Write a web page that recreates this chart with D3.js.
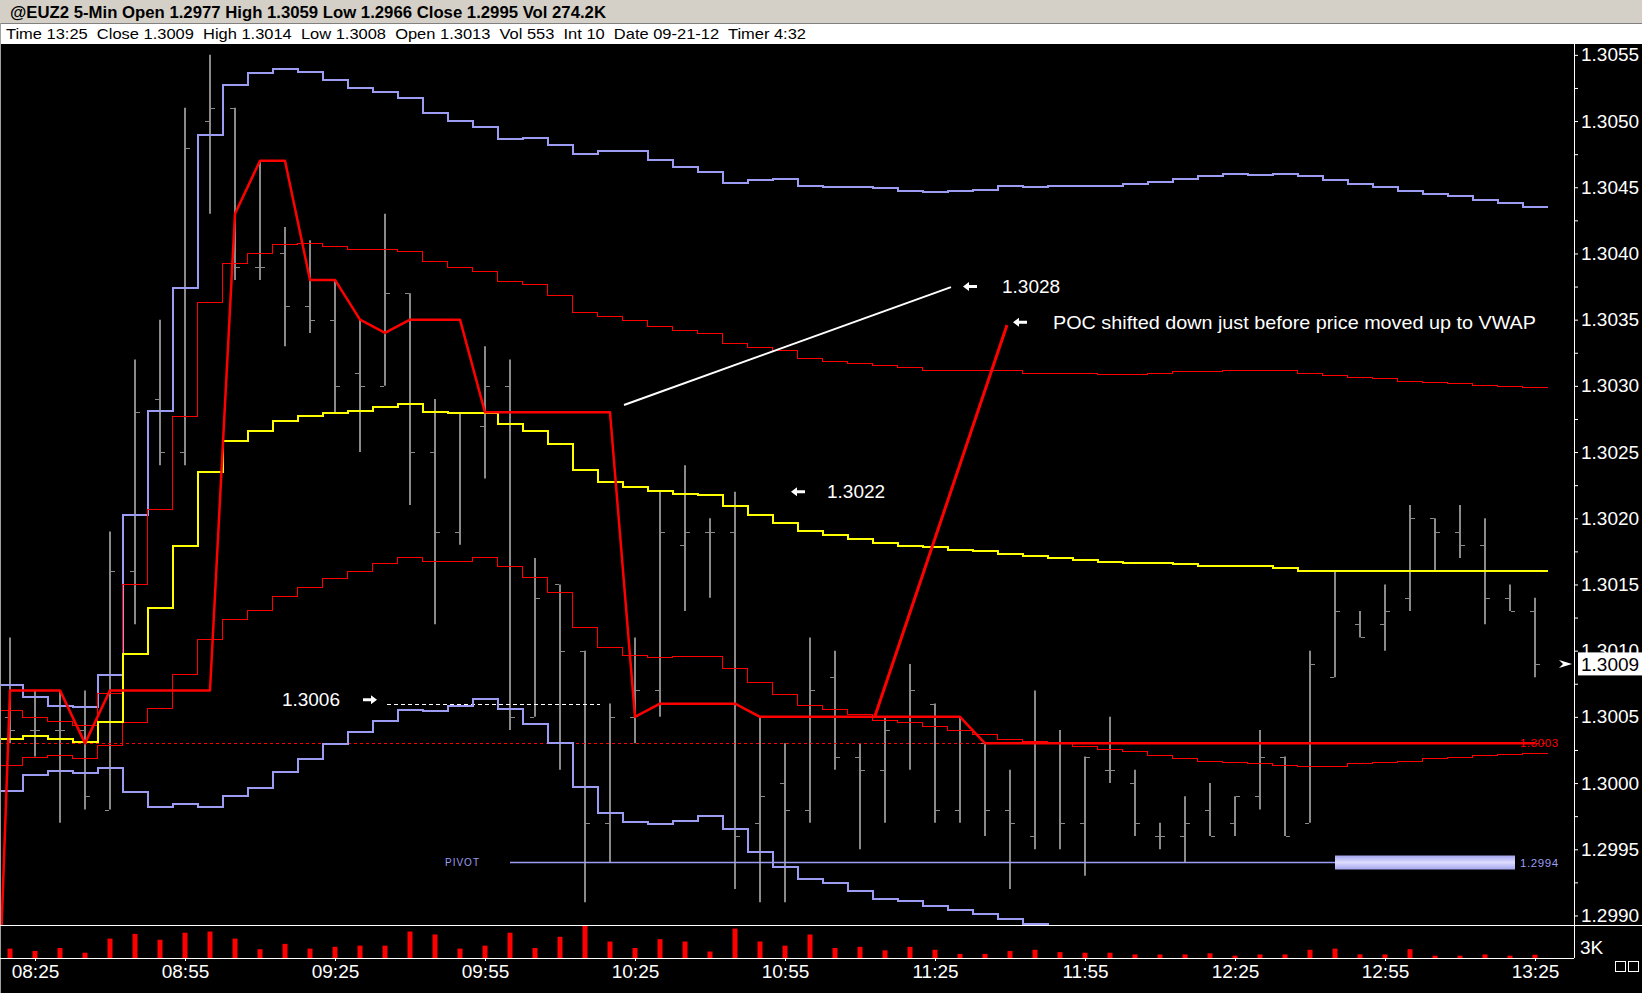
<!DOCTYPE html>
<html>
<head>
<meta charset="utf-8">
<script src="https://cdn.jsdelivr.net/npm/d3@7"></script>
<style>
  html, body { margin: 0; padding: 0; background: #000; overflow: hidden; }
  svg { display: block; font-family: "Liberation Sans", Arial, sans-serif; }
</style>
</head>
<body>
<svg id="chart" width="1642" height="993"></svg>
<script>
/** ---------- data ---------- */
const headerTitle = "@EUZ2 5-Min Open 1.2977 High 1.3059 Low 1.2966 Close 1.2995 Vol 274.2K";
const headerInfo = "Time 13:25  Close 1.3009  High 1.3014  Low 1.3008  Open 1.3013  Vol 553  Int 10  Date 09-21-12  Timer 4:32";

const times = ["08:20",
  "08:25","08:30","08:35","08:40","08:45","08:50",
  "08:55","09:00","09:05","09:10","09:15","09:20",
  "09:25","09:30","09:35","09:40","09:45","09:50",
  "09:55","10:00","10:05","10:10","10:15","10:20",
  "10:25","10:30","10:35","10:40","10:45","10:50",
  "10:55","11:00","11:05","11:10","11:15","11:20",
  "11:25","11:30","11:35","11:40","11:45","11:50",
  "11:55","12:00","12:05","12:10","12:15","12:20",
  "12:25","12:30","12:35","12:40","12:45","12:50",
  "12:55","13:00","13:05","13:10","13:15","13:20",
  "13:25"];

const open = [1.3005,
  1.3004,1.3004,1.3004,1.2998,1.3016,1.3029,
  1.3025,1.3050,1.3051,1.3039,1.3040,1.3036,
  1.3035,1.3031,1.3030,1.3037,1.3025,1.3019,
  1.3027,1.3030,1.3005,1.3015,1.3010,1.2997,
  1.3005,1.3007,1.3018,1.3019,1.3019,1.2997,
  1.3000,1.2998,1.3008,1.3002,1.3001,1.3005,
  1.3006,1.2998,1.3003,1.2998,1.2996,1.3003,
  1.2997,1.3001,1.3000,1.2996,1.2996,1.2998,
  1.2997,1.2999,1.3002,1.2997,1.3008,1.3012,
  1.3012,1.3014,1.3020,1.3019,1.3018,1.3014,
  1.3013];

const high = [1.3011,
  1.3007,1.3007,1.3007,1.3019,1.3032,1.3035,
  1.3051,1.3055,1.3051,1.3047,1.3042,1.3041,
  1.3038,1.3035,1.3043,1.3037,1.3029,1.3028,
  1.3033,1.3032,1.3017,1.3015,1.3010,1.3006,
  1.3011,1.3022,1.3024,1.3020,1.3022,1.3005,
  1.3003,1.3011,1.3010,1.3003,1.3005,1.3009,
  1.3006,1.3005,1.3003,1.3001,1.3007,1.3004,
  1.3002,1.3005,1.3001,1.2997,1.2999,1.3000,
  1.2999,1.3004,1.3002,1.3010,1.3016,1.3013,
  1.3015,1.3021,1.3020,1.3021,1.3020,1.3015,
  1.3014];

const low = [1.3003,
  1.3002,1.2997,1.2998,1.2998,1.3012,1.3024,
  1.3024,1.3043,1.3038,1.3038,1.3033,1.3034,
  1.3028,1.3025,1.3030,1.3021,1.3012,1.3018,
  1.3023,1.3004,1.3005,1.3001,1.2991,1.2994,
  1.3003,1.3005,1.3013,1.3014,1.2992,1.2991,
  1.2991,1.2997,1.3001,1.2995,1.2997,1.3001,
  1.2997,1.2997,1.2996,1.2992,1.2995,1.2995,
  1.2993,1.3000,1.2996,1.2995,1.2994,1.2996,
  1.2996,1.2998,1.2996,1.2997,1.3008,1.3011,
  1.3010,1.3013,1.3016,1.3017,1.3012,1.3013,
  1.3008];

const close = [1.3004,
  1.3004,1.3004,1.2999,1.3016,1.3028,1.3025,
  1.3048,1.3051,1.3039,1.3039,1.3036,1.3035,
  1.3030,1.3030,1.3037,1.3025,1.3019,1.3028,
  1.3030,1.3005,1.3014,1.3010,1.2997,1.3005,
  1.3007,1.3019,1.3019,1.3019,1.2996,1.2999,
  1.2998,1.3007,1.3002,1.3001,1.3004,1.3007,
  1.2998,1.3004,1.2998,1.2997,1.3003,1.2997,
  1.3002,1.3001,1.2997,1.2996,1.2997,1.2996,
  1.2999,1.3002,1.2996,1.3009,1.3013,1.3011,
  1.3013,1.3020,1.3019,1.3018,1.3014,1.3013,
  1.3009];

const volume = [1600,
  1200,1700,900,3300,4100,3100,
  4300,4500,3300,1500,2400,1600,
  1900,2100,2100,4500,4000,1600,
  2100,4300,1700,3600,5600,2800,
  1700,3200,2800,1100,5000,2800,
  2100,4000,1700,1900,1300,1900,
  1400,700,700,1200,1400,1000,
  900,900,600,600,600,800,
  400,600,600,1400,1600,600,
  600,1500,400,400,600,400,
  553];

// VWAP and its two deviation bands on each side
const vwap = [1.30034,
  1.30036,1.30034,1.30032,1.30047,1.30098,1.30133,
  1.30180,1.30236,1.30259,1.30267,1.30274,1.30278,
  1.30280,1.30282,1.30285,1.30287,1.30281,1.30280,
  1.30280,1.30272,1.30267,1.30257,1.30237,1.30228,
  1.30224,1.30221,1.30219,1.30218,1.30210,1.30203,
  1.30197,1.30191,1.30188,1.30185,1.30182,1.30180,
  1.30179,1.30177,1.30176,1.30174,1.30172,1.30171,
  1.30169,1.30168,1.30167,1.30167,1.30166,1.30165,
  1.30165,1.30165,1.30163,1.30161,1.30161,1.30161,
  1.30161,1.30161,1.30161,1.30161,1.30161,1.30161,
  1.30161];

const upper1 = [1.30055,
  1.30050,1.30047,1.30044,1.30068,1.30150,1.30207,
  1.30277,1.30363,1.30393,1.30400,1.30407,1.30408,
  1.30406,1.30403,1.30403,1.30402,1.30394,1.30390,
  1.30387,1.30379,1.30377,1.30369,1.30356,1.30353,
  1.30350,1.30345,1.30342,1.30340,1.30332,1.30329,
  1.30327,1.30321,1.30319,1.30317,1.30316,1.30314,
  1.30312,1.30312,1.30312,1.30312,1.30310,1.30310,
  1.30310,1.30309,1.30309,1.30310,1.30311,1.30311,
  1.30312,1.30312,1.30312,1.30310,1.30308,1.30307,
  1.30306,1.30304,1.30303,1.30302,1.30301,1.30300,
  1.30299];

const upper2 = [1.30075,
  1.30066,1.30059,1.30058,1.30082,1.30203,1.30282,
  1.30375,1.30490,1.30528,1.30537,1.30540,1.30538,
  1.30532,1.30526,1.30523,1.30518,1.30507,1.30501,
  1.30496,1.30487,1.30488,1.30483,1.30476,1.30478,
  1.30478,1.30471,1.30466,1.30462,1.30454,1.30456,
  1.30457,1.30452,1.30451,1.30451,1.30450,1.30448,
  1.30447,1.30448,1.30449,1.30452,1.30451,1.30452,
  1.30452,1.30452,1.30453,1.30455,1.30457,1.30459,
  1.30461,1.30460,1.30461,1.30459,1.30456,1.30453,
  1.30451,1.30448,1.30446,1.30444,1.30441,1.30439,
  1.30436];

const lower1 = [1.30014,
  1.30020,1.30021,1.30019,1.30029,1.30046,1.30057,
  1.30082,1.30109,1.30124,1.30131,1.30141,1.30148,
  1.30155,1.30160,1.30166,1.30171,1.30168,1.30168,
  1.30171,1.30164,1.30156,1.30144,1.30118,1.30103,
  1.30097,1.30095,1.30096,1.30096,1.30087,1.30076,
  1.30067,1.30059,1.30056,1.30052,1.30048,1.30046,
  1.30043,1.30040,1.30037,1.30033,1.30032,1.30030,
  1.30028,1.30026,1.30024,1.30021,1.30019,1.30017,
  1.30016,1.30015,1.30014,1.30013,1.30013,1.30015,
  1.30016,1.30017,1.30019,1.30020,1.30021,1.30022,
  1.30023];

const lower2 = [1.29995,
  1.30007,1.30010,1.30008,1.30012,1.29994,1.29983,
  1.29985,1.29983,1.29991,1.29997,1.30009,1.30019,
  1.30030,1.30039,1.30048,1.30056,1.30055,1.30059,
  1.30064,1.30057,1.30045,1.30031,1.29998,1.29978,
  1.29971,1.29970,1.29972,1.29976,1.29966,1.29949,
  1.29937,1.29928,1.29925,1.29919,1.29913,1.29912,
  1.29908,1.29905,1.29902,1.29898,1.29894,1.29888,
  1.29886,1.29884,1.29882,1.29880,1.29879,1.29878,
  1.29877,1.29877,1.29876,1.29877,1.29880,1.29882,
  1.29883,1.29885,1.29886,1.29887,1.29888,1.29889,
  1.29890];

// point of control (thick red line), plus the value of the bar before the screen
const pocPrevTime = "08:15";
const pocPrev = 1.2954;
const poc = [1.3007,
  1.3007,1.3007,1.3003,1.3007,1.3007,1.3007,
  1.3007,1.3007,1.3043,1.3047,1.3047,1.3038,
  1.3038,1.3035,1.3034,1.3035,1.3035,1.3035,
  1.3028,1.3028,1.3028,1.3028,1.3028,1.3028,
  1.3005,1.3006,1.3006,1.3006,1.3006,1.3005,
  1.3005,1.3005,1.3005,1.3005,1.3005,1.3005,
  1.3005,1.3005,1.3003,1.3003,1.3003,1.3003,
  1.3003,1.3003,1.3003,1.3003,1.3003,1.3003,
  1.3003,1.3003,1.3003,1.3003,1.3003,1.3003,
  1.3003,1.3003,1.3003,1.3003,1.3003,1.3003,
  1.3003];

const pocLevel = 1.3003;
const pivot = { price: 1.2994, lineFrom: 600, barFrom: 765, barTo: 801, labelAt: 587 };
const level1306 = { price: 1.3006, from: 575.4, to: 618 };

const priceTicks = d3.range(0, 14).map(i => (12990 + 5 * i) / 10000);
const priceMinor = d3.range(0, 13).map(i => (129925 + 50 * i) / 100000);
const timeTicks = ["08:25","08:55","09:25","09:55","10:25","10:55","11:25","11:55","12:25","12:55","13:25"];

// callouts, in (minutes since midnight, price)
const calloutLines = [
  { t0: 622.8, p0: 1.302855, t1: 688.2, p1: 1.303746, color: "#ffffff", w: 2 },
  { t0: 673.0, p0: 1.300506, t1: 699.4, p1: 1.303459, color: "#ff0000", w: 3 }
];
const calloutArrows = [
  { t: 692.0, p: 1.30375, dir: -1 },
  { t: 702.0, p: 1.30348, dir: -1 },
  { t: 657.6, p: 1.30220, dir: -1 },
  { t: 572.0, p: 1.30063, dir: 1 }
];
const calloutTexts = [
  { t: 698.4, p: 1.30375, text: "1.3028", anchor: "start" },
  { t: 708.6, p: 1.30348, text: "POC shifted down just before price moved up to VWAP", anchor: "start", len: 483 },
  { t: 663.4, p: 1.30220, text: "1.3022", anchor: "start" },
  { t: 566.0, p: 1.30063, text: "1.3006", anchor: "end" }
];

/** ---------- scales ---------- */
const toMin = s => +s.slice(0, 2) * 60 + +s.slice(3);
const W = 1642, axisX = 1574, plotTop = 44, plotBottom = 925, volBottom = 958;

const x = d3.scaleLinear().domain([toMin("08:25"), toMin("13:25")]).range([35, 1535]);
const y = d3.scaleLinear().domain([1.298928, 1.305582]).range([plotBottom, plotTop]);
const yv = d3.scaleLinear().domain([0, 5610]).range([volBottom, plotBottom]);
const half = (x(toMin("08:30")) - x(toMin("08:25"))) / 2;

const bars = times.map((t, i) => ({
  t: toMin(t), o: open[i], h: high[i], l: low[i], c: close[i], v: volume[i]
}));

/** ---------- chrome ---------- */
const svg = d3.select("#chart");
svg.append("rect").attr("width", W).attr("height", 993).attr("fill", "#000");

svg.append("rect").attr("width", W).attr("height", 23).attr("fill", "#d4d0c8");
svg.append("text")
  .attr("x", 10).attr("y", 18)
  .attr("font-size", 16).attr("font-weight", "bold").attr("fill", "#000")
  .attr("textLength", 596).attr("lengthAdjust", "spacingAndGlyphs")
  .text(headerTitle);

svg.append("rect").attr("y", 23).attr("width", W).attr("height", 21).attr("fill", "#fff");
svg.append("line").attr("x1", 0).attr("x2", W).attr("y1", 23.5).attr("y2", 23.5).attr("stroke", "#808080");
svg.append("text")
  .attr("x", 6).attr("y", 39)
  .attr("font-size", 15).attr("fill", "#000")
  .style("white-space", "pre")
  .attr("textLength", 800).attr("lengthAdjust", "spacingAndGlyphs")
  .text(headerInfo);

svg.append("line").attr("x1", 0.5).attr("x2", 0.5).attr("y1", 23).attr("y2", 993).attr("stroke", "#a0a0a0");

const defs = svg.append("defs");
defs.append("clipPath").attr("id", "plotClip")
  .append("rect").attr("x", 1).attr("y", plotTop).attr("width", axisX - 1).attr("height", plotBottom - plotTop);

const grad = defs.append("linearGradient").attr("id", "pivotGrad")
  .attr("x1", 0).attr("x2", 0).attr("y1", 0).attr("y2", 1);
grad.append("stop").attr("offset", "0%").attr("stop-color", "#a4a4ee");
grad.append("stop").attr("offset", "50%").attr("stop-color", "#dcdcff");
grad.append("stop").attr("offset", "100%").attr("stop-color", "#a4a4ee");

/** ---------- price panel ---------- */
const plot = svg.append("g").attr("clip-path", "url(#plotClip)");

// OHLC bars
const barG = plot.append("g").attr("stroke", "#8a8a8a");
barG.selectAll("line.hl").data(bars).join("line")
  .attr("class", "hl")
  .attr("x1", d => x(d.t)).attr("x2", d => x(d.t))
  .attr("y1", d => y(d.h)).attr("y2", d => y(d.l))
  .attr("stroke-width", 2);
barG.selectAll("line.op").data(bars).join("line")
  .attr("class", "op")
  .attr("x1", d => x(d.t) - 5).attr("x2", d => x(d.t) - 1)
  .attr("y1", d => Math.round(y(d.o)) + 0.5).attr("y2", d => Math.round(y(d.o)) + 0.5)
  .attr("stroke-width", 1);
barG.selectAll("line.cl").data(bars).join("line")
  .attr("class", "cl")
  .attr("x1", d => x(d.t) + 1).attr("x2", d => x(d.t) + 5)
  .attr("y1", d => Math.round(y(d.c)) + 0.5).attr("y2", d => Math.round(y(d.c)) + 0.5)
  .attr("stroke-width", 1);

// step-style band lines, each value spans its own bar slot
const lineGen = d3.line();
function stepPath(vals) {
  const pts = [];
  vals.forEach((v, i) => {
    const cx = x(toMin(times[i]));
    pts.push([cx - half, Math.round(y(v)) + 0.5], [cx + half, Math.round(y(v)) + 0.5]);
  });
  return lineGen(pts);
}

const bands = [
  { vals: upper2, color: "#9c9cf2", w: 2 },
  { vals: lower2, color: "#9c9cf2", w: 2 },
  { vals: upper1, color: "#ff0000", w: 1 },
  { vals: lower1, color: "#ff0000", w: 1 },
  { vals: vwap, color: "#ffff00", w: 2 }
];

// dashed reference levels
const lastX = x(toMin(times[times.length - 1])) + half;
plot.append("line")
  .attr("x1", 0).attr("x2", lastX)
  .attr("y1", Math.round(y(pocLevel)) + 0.5).attr("y2", Math.round(y(pocLevel)) + 0.5)
  .attr("stroke", "#ff0000").attr("stroke-width", 1).attr("stroke-dasharray", "3,3");
plot.append("line")
  .attr("x1", x(level1306.from)).attr("x2", x(level1306.to))
  .attr("y1", Math.round(y(level1306.price)) + 0.5).attr("y2", Math.round(y(level1306.price)) + 0.5)
  .attr("stroke", "#ffffff").attr("stroke-width", 1).attr("stroke-dasharray", "4,3");

// pivot
plot.append("line")
  .attr("x1", x(pivot.lineFrom)).attr("x2", x(pivot.barFrom))
  .attr("y1", y(pivot.price)).attr("y2", y(pivot.price))
  .attr("stroke", "#9c9cf2").attr("stroke-width", 1.5);
plot.append("rect")
  .attr("x", x(pivot.barFrom)).attr("width", x(pivot.barTo) - x(pivot.barFrom))
  .attr("y", y(pivot.price) - 7).attr("height", 14)
  .attr("fill", "url(#pivotGrad)");
plot.append("text")
  .attr("x", x(pivot.labelAt)).attr("y", y(pivot.price)).attr("dy", "0.35em")
  .attr("font-size", 10).attr("letter-spacing", 1).attr("fill", "#9c9cf2")
  .text("PIVOT");

plot.selectAll("path.band").data(bands).join("path")
  .attr("class", "band")
  .attr("d", d => stepPath(d.vals))
  .attr("fill", "none")
  .attr("stroke", d => d.color)
  .attr("stroke-width", d => d.w)
  .attr("shape-rendering", "crispEdges");

// POC line
const pocPts = [[x(toMin(pocPrevTime)), y(pocPrev)]]
  .concat(poc.map((v, i) => [x(toMin(times[i])), y(v)]));
plot.append("path")
  .attr("d", lineGen(pocPts))
  .attr("fill", "none").attr("stroke", "#ff0000").attr("stroke-width", 2.5)
  .attr("stroke-linejoin", "round");

// labels at the right end of the levels
plot.append("text")
  .attr("x", x(802)).attr("y", y(pocLevel)).attr("dy", "0.35em")
  .attr("font-size", 11.5).attr("letter-spacing", 0.6).attr("fill", "#ff0000")
  .text(d3.format(".4f")(pocLevel));
plot.append("text")
  .attr("x", x(802)).attr("y", y(pivot.price)).attr("dy", "0.35em")
  .attr("font-size", 11.5).attr("letter-spacing", 0.6).attr("fill", "#9c9cf2")
  .text(d3.format(".4f")(pivot.price));

// callouts
plot.selectAll("line.callout").data(calloutLines).join("line")
  .attr("class", "callout")
  .attr("x1", d => x(d.t0)).attr("y1", d => y(d.p0))
  .attr("x2", d => x(d.t1)).attr("y2", d => y(d.p1))
  .attr("stroke", d => d.color).attr("stroke-width", d => d.w);

const arrowShape = "M-7,0L-1,-4.5L-1,-1.5L7,-1.5L7,1.5L-1,1.5L-1,4.5Z";
plot.selectAll("path.arrow").data(calloutArrows).join("path")
  .attr("class", "arrow")
  .attr("d", arrowShape)
  .attr("transform", d => `translate(${x(d.t)},${y(d.p)}) scale(${-d.dir},1)`)
  .attr("fill", "#fff");

plot.selectAll("text.callout").data(calloutTexts).join("text")
  .attr("class", "callout")
  .attr("x", d => x(d.t)).attr("y", d => y(d.p)).attr("dy", "0.35em")
  .attr("text-anchor", d => d.anchor)
  .attr("font-size", 19).attr("fill", "#fff")
  .each(function(d) {
    if (d.len) d3.select(this).attr("textLength", d.len).attr("lengthAdjust", "spacingAndGlyphs");
  })
  .text(d => d.text);

/** ---------- volume panel ---------- */
svg.append("g").selectAll("rect").data(bars).join("rect")
  .attr("x", d => x(d.t) - 2.5).attr("width", 5)
  .attr("y", d => yv(d.v)).attr("height", d => volBottom - yv(d.v))
  .attr("fill", "#ff0000");

svg.append("line").attr("x1", 0).attr("x2", W).attr("y1", plotBottom + 0.5).attr("y2", plotBottom + 0.5)
  .attr("stroke", "#fff");
svg.append("line").attr("x1", 0).attr("x2", axisX).attr("y1", volBottom + 0.5).attr("y2", volBottom + 0.5)
  .attr("stroke", "#fff");
svg.append("line").attr("x1", axisX + 0.5).attr("x2", axisX + 0.5).attr("y1", plotTop).attr("y2", volBottom)
  .attr("stroke", "#fff");

/** ---------- axes ---------- */
const yAxis = svg.append("g")
  .attr("transform", `translate(${axisX},0)`)
  .call(d3.axisRight(y).tickValues(priceTicks).tickSize(4).tickPadding(3).tickFormat(d3.format(".4f")));
svg.append("g")
  .attr("transform", `translate(${axisX},0)`)
  .call(d3.axisRight(y).tickValues(priceMinor).tickSize(4).tickFormat(""))
  .call(g => g.select(".domain").remove())
  .selectAll("line").attr("stroke", "#fff");
yAxis.select(".domain").remove();
yAxis.selectAll("line").attr("stroke", "#fff");
yAxis.selectAll("text").attr("fill", "#fff").attr("font-size", 19)
  .attr("font-family", "'Liberation Sans', Arial, sans-serif");

const xAxis = svg.append("g")
  .attr("transform", `translate(0,${volBottom})`)
  .call(d3.axisBottom(x).tickValues(timeTicks.map(toMin)).tickSize(3).tickPadding(4)
    .tickFormat(m => d3.format("02")(Math.floor(m / 60)) + ":" + d3.format("02")(m % 60)));
xAxis.select(".domain").remove();
xAxis.selectAll("line").attr("stroke", "#fff");
xAxis.selectAll("text").attr("fill", "#fff").attr("font-size", 19)
  .attr("font-family", "'Liberation Sans', Arial, sans-serif");

// volume scale label
svg.append("text")
  .attr("x", axisX + 6).attr("y", yv(3000)).attr("dy", "0.71em")
  .attr("font-size", 19).attr("fill", "#fff")
  .text("3K");

// current price marker
const last = close[close.length - 1];
const yl = y(last);
svg.append("rect").attr("x", axisX + 4).attr("y", yl - 11.5).attr("width", W - axisX - 4).attr("height", 23)
  .attr("fill", "#fff");
svg.append("text").attr("x", axisX + 7).attr("y", yl).attr("dy", "0.36em")
  .attr("font-size", 19).attr("fill", "#000")
  .text(d3.format(".4f")(last));
svg.append("path")
  .attr("d", "M-13,-4L0,0L-13,4L-9,0Z")
  .attr("transform", `translate(${axisX - 2},${yl})`)
  .attr("fill", "#fff");

// window buttons bottom right
svg.selectAll("rect.btn").data([0, 1]).join("rect")
  .attr("class", "btn")
  .attr("x", d => 1615.5 + d * 13).attr("y", 961.5)
  .attr("width", 10).attr("height", 10)
  .attr("fill", "none").attr("stroke", "#fff");
</script>
</body>
</html>
